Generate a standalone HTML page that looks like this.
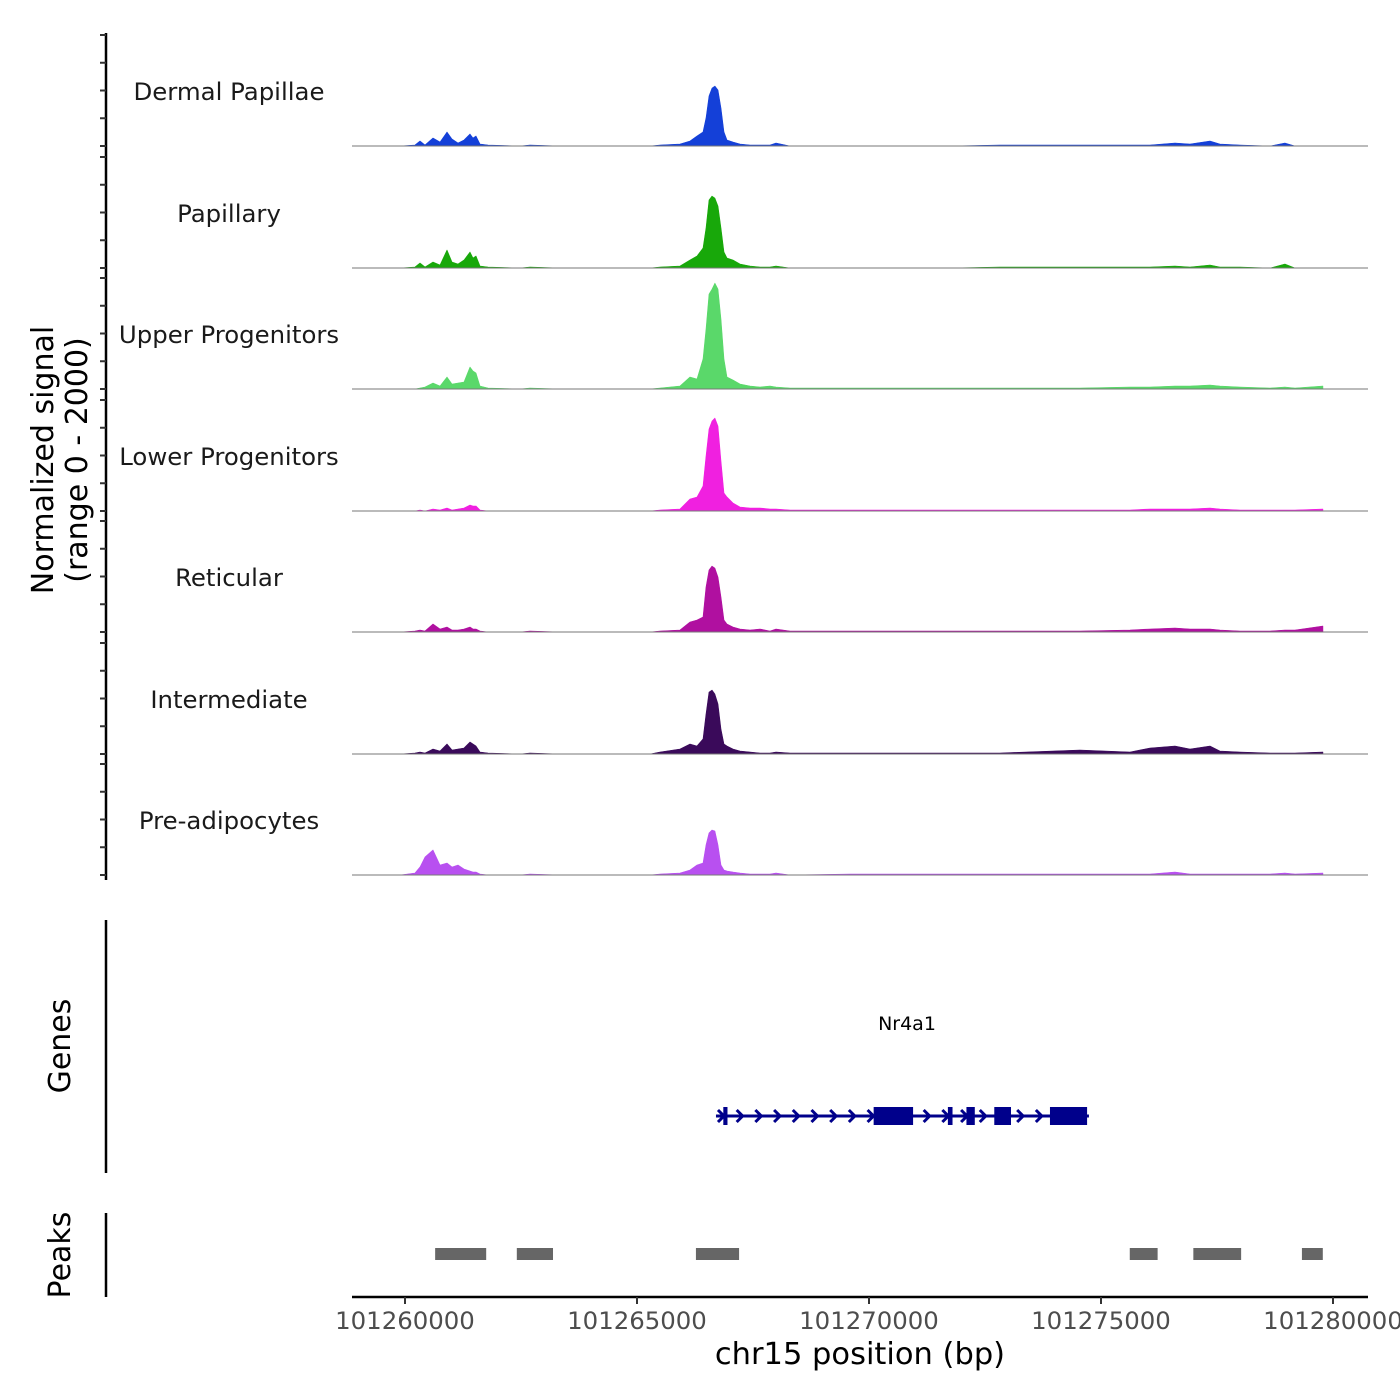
<!DOCTYPE html>
<html><head><meta charset="utf-8"><style>
html,body{margin:0;padding:0;background:#fff;}
svg{display:block;font-family:"DejaVu Sans","Liberation Sans",sans-serif;}
</style></head><body>
<svg id="chart" width="1400" height="1400" viewBox="0 0 1400 1400" xmlns="http://www.w3.org/2000/svg"></svg>
<script>
const trackNames = ["Dermal Papillae","Papillary","Upper Progenitors","Lower Progenitors","Reticular","Intermediate","Pre-adipocytes"];
const trackColors = ["#1440d8","#18a80a","#5ad86a","#f020e0","#b010a0","#3a0a5a","#b850f0"];
const positions = [101259892,101260216,101260323,101260431,101260603,101260754,101260905,101261013,101261142,101261271,101261401,101261465,101261530,101261616,101261789,101262478,101262694,101263340,101265280,101265495,101265926,101266142,101266293,101266422,101266487,101266551,101266616,101266680,101266745,101266810,101266874,101266939,101267068,101267219,101267435,101267650,101267866,101267995,101268297,101269590,101271745,101272822,101274546,101275624,101276055,101276594,101276917,101277348,101277563,101277994,101278641,101278964,101279180,101279783];
const sigDermal = [0,18,90,18,144,72,252,126,54,108,216,144,180,36,18,0,18,0,0,18,36,90,180,252,504,900,1044,1080,1008,684,252,108,72,36,18,18,18,54,0,0,0,18,18,18,18,54,36,90,36,18,0,54,0,0];
const sigPapillary = [0,18,90,18,108,54,324,108,72,144,288,180,216,36,18,0,18,0,0,18,36,144,216,360,720,1224,1296,1260,1116,720,288,180,144,72,36,18,18,36,0,0,0,18,18,18,18,36,18,54,18,18,0,72,0,0];
const sigUpper = [0,0,18,36,108,54,216,90,108,126,396,324,288,54,18,0,18,0,0,18,54,216,180,540,1080,1710,1800,1908,1800,1260,540,216,162,90,54,36,54,36,18,18,18,18,18,36,36,54,54,72,54,36,18,36,18,54];
const sigLower = [0,0,18,0,36,18,54,18,36,54,108,90,90,18,0,0,0,0,0,18,36,216,252,450,990,1476,1620,1674,1530,900,324,252,144,72,54,54,36,36,18,18,18,18,18,18,36,36,36,54,36,18,18,18,18,36];
const sigReticular = [0,18,36,18,144,54,90,36,36,54,90,54,54,18,0,0,18,0,0,18,36,180,216,270,810,1116,1188,1152,990,630,216,144,90,54,36,54,18,54,18,18,18,18,18,36,54,72,54,54,36,18,18,36,36,108];
const sigIntermediate = [0,18,36,18,90,54,180,72,90,108,216,180,144,36,18,0,18,0,0,36,90,180,144,270,720,1116,1152,1080,900,450,180,144,90,54,36,18,18,36,18,18,18,18,72,36,108,144,90,144,54,36,18,18,18,36];
const sigPreadipo = [0,36,144,324,450,180,216,144,180,108,72,54,54,18,0,0,18,0,0,18,36,90,180,216,540,756,810,792,540,180,90,72,54,36,18,18,18,36,0,18,18,18,18,18,18,54,18,18,18,18,18,36,18,36];
const signals = [sigDermal,sigPapillary,sigUpper,sigLower,sigReticular,sigIntermediate,sigPreadipo];
const xTicks = [101260000,101265000,101270000,101275000,101280000];
const geneStart = 101266702, geneEnd = 101274740;
const exonStarts = [101266860,101270100,101271700,101272100,101272700,101272880,101273900];
const exonEnds = [101266950,101270950,101271800,101272280,101272900,101273060,101274700];
const peakStarts = [101260650,101262410,101266270,101275620,101276990,101279330];
const peakEnds = [101261750,101263190,101267200,101276220,101278020,101279780];

const svg = document.getElementById('chart');
const NS = 'http://www.w3.org/2000/svg';
function mk(tag, attrs, parent){const e=document.createElementNS(NS,tag);for(const k in attrs)e.setAttribute(k,attrs[k]);(parent||svg).appendChild(e);return e;}
const xMin = 101258858, xMax = 101280754, pxL = 352, pxR = 1368;
function xs(bp){return pxL + (bp-xMin)/(xMax-xMin)*(pxR-pxL);}
const baselines = [146,268,389,511,632,754,875];
function ys(v,i){return baselines[i] - v/2000*111;}

const ax = mk('line',{x1:106,y1:33,x2:106,y2:880,stroke:'#000','stroke-width':2.5});


for(let i=0;i<7;i++){
  for(const v of [0,500,1000,1500,2000]){
    const t=mk('line',{x1:100,x2:106,y1:ys(v,i),y2:ys(v,i),stroke:'#333','stroke-width':2});
    
    
  }
}
const yt = mk('text',{x:0,y:0,'font-size':30,'text-anchor':'middle',transform:'translate(53,460) rotate(-90)'});


const t1=mk('tspan',{x:0,dy:0},yt);t1.textContent='Normalized signal';
const t2=mk('tspan',{x:0,dy:34},yt);t2.textContent='(range 0 - 2000)';

for(let i=0;i<7;i++){
  let d='M'+xs(positions[0])+','+baselines[i];
  for(let j=0;j<positions.length;j++) d+=' L'+xs(positions[j]).toFixed(1)+','+ys(signals[i][j],i).toFixed(1);
  d+=' L'+xs(positions[positions.length-1])+','+baselines[i]+' Z';
  const p=mk('path',{d:d,fill:trackColors[i],stroke:trackColors[i],'stroke-width':0.6,'stroke-linejoin':'round'});
  
  
  const b=mk('line',{x1:pxL,x2:pxR,y1:baselines[i],y2:baselines[i],stroke:'#777','stroke-width':1});
  
  
  const l=mk('text',{x:229,y:baselines[i]-46,'font-size':24.4,'text-anchor':'middle',fill:'#1a1a1a'});
  l.textContent=trackNames[i];
  
  
}

const ga=mk('line',{x1:106,y1:920,x2:106,y2:1173,stroke:'#000','stroke-width':2.5});


const gt=mk('text',{x:0,y:0,'font-size':30,'text-anchor':'middle',transform:'translate(70,1046) rotate(-90)'});
gt.textContent='Genes';


const gl=mk('text',{x:907,y:1030,'font-size':19,'text-anchor':'middle',fill:'#000'});
gl.textContent='Nr4a1';


const gline=mk('line',{x1:xs(geneStart),x2:xs(geneEnd),y1:1116,y2:1116,stroke:'#00008b','stroke-width':3});


for(let x=xs(geneStart)+2;x<xs(geneEnd)-8;x+=18.7){
  const c=mk('path',{d:`M${x},1110 L${x+6},1116 L${x},1122`,fill:'none',stroke:'#00008b','stroke-width':3});
  
  
}
for(let k=0;k<exonStarts.length;k++){
  const r=mk('rect',{x:xs(exonStarts[k]),y:1107,width:Math.max(4,xs(exonEnds[k])-xs(exonStarts[k])),height:18,fill:'#00008b'});
  
  
}

const pa=mk('line',{x1:106,y1:1213,x2:106,y2:1297,stroke:'#000','stroke-width':2.5});


const pt=mk('text',{x:0,y:0,'font-size':30,'text-anchor':'middle',transform:'translate(70,1255) rotate(-90)'});
pt.textContent='Peaks';


for(let k=0;k<peakStarts.length;k++){
  const r=mk('rect',{x:xs(peakStarts[k]),y:1248,width:xs(peakEnds[k])-xs(peakStarts[k]),height:12,fill:'#666'});
  
  
}

const xa=mk('line',{x1:pxL,x2:pxR,y1:1297,y2:1297,stroke:'#000','stroke-width':2.5});


for(const v of xTicks){
  const t=mk('line',{x1:xs(v),x2:xs(v),y1:1297,y2:1304,stroke:'#333','stroke-width':2});
  
  
  const lb=mk('text',{x:xs(v),y:1329,'font-size':24.4,'text-anchor':'middle',fill:'#4d4d4d'});
  lb.textContent=String(v);
  
  
}
const xt=mk('text',{x:860,y:1364,'font-size':30.5,'text-anchor':'middle',fill:'#000'});
xt.textContent='chr15 position (bp)';


</script>
</body></html>
